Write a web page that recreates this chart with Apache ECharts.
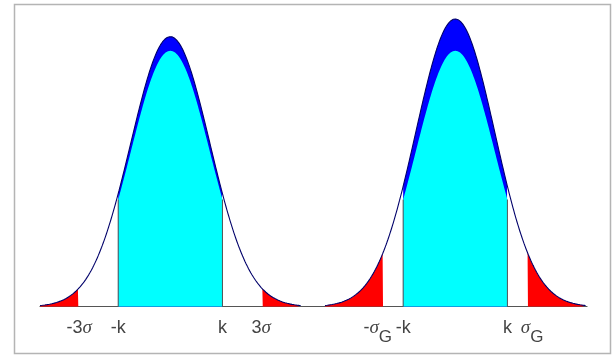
<!DOCTYPE html>
<html>
<head>
<meta charset="utf-8">
<style>
  html, body { margin: 0; padding: 0; background: #fff; }
  #chart { width: 613px; height: 355px; }
</style>
<script src="https://cdn.jsdelivr.net/npm/echarts@6/dist/echarts.min.js"></script>
</head>
<body>
<div id="chart"></div>
<script>
// x in units of sigma of the inner (cyan) curve, y relative to the inner peak
let centers = [0, 7.215]
let innerPeak = [1, 1]
let outerPeak = [1.055, 1.124]
let kCut = [1.32, 1.32]
let tailCut = [2.33, 1.83]
let halfSpan = [3.3, 3.3]

// tick labels under the axis
let labelPos = [-2.31, -1.32, 1.32, 2.30, 5.25, 5.895, 8.535, 9.16]
let labelText = ['-3σ', '-k', 'k', '3σ', '-σG', '-k', 'k', 'σG']

let gauss = (x, c, h) => h * Math.exp(-(x - c) * (x - c) / 2)

let sample = (from, to, c, h) => {
  let pts = []
  let n = Math.max(2, Math.round((to - from) / 0.01))
  for (let i = 0; i <= n; i++) {
    let x = from + (to - from) * i / n
    pts.push([x, gauss(x, c, h)])
  }
  return pts
}

let area = (data, color) => ({
  type: 'line',
  data: data,
  symbol: 'none',
  silent: true,
  lineStyle: { width: 0 },
  areaStyle: { color: color, opacity: 1 }
})

let series = []
centers.forEach((c, i) => {
  let hw = halfSpan[i], k = kCut[i], t = tailCut[i]
  series.push(area(sample(c - k, c + k, c, outerPeak[i]), '#0000ff'))
  series.push(area(sample(c - k, c + k, c, innerPeak[i]), '#00ffff'))
  series.push(area(sample(c - hw, c - t, c, outerPeak[i]), '#ff0000'))
  series.push(area(sample(c + t, c + hw, c, outerPeak[i]), '#ff0000'))
  // outline of the whole curve
  series.push({
    type: 'line',
    data: sample(c - hw, c + hw, c, outerPeak[i]),
    symbol: 'none',
    silent: true,
    lineStyle: { color: '#00006a', width: 1.1 }
  })
  // edges of the cyan band
  series.push({
    type: 'line',
    data: [[c - k, 0], [c - k, gauss(c - k, c, innerPeak[i])], null,
           [c + k, 0], [c + k, gauss(c + k, c, innerPeak[i])]],
    symbol: 'none',
    silent: true,
    lineStyle: { color: '#555', width: 1 }
  })
})

let rich = {
  n: { fontSize: 18, lineHeight: 36, color: '#444', fontFamily: 'Liberation Sans' },
  s: { fontSize: 19, lineHeight: 36, color: '#444', fontFamily: 'Liberation Serif', fontStyle: 'italic' },
  g: { fontSize: 17, lineHeight: 20, color: '#444', fontFamily: 'Liberation Sans', padding: [19, 0, 0, 0] }
}

let fmt = (s) => {
  let out = ''
  for (let ch of s) {
    if (ch === 'σ') out += '{s|σ}'
    else if (ch === 'G') out += '{g|G}'
    else out += '{n|' + ch + '}'
  }
  return out
}

let myChart = echarts.init(document.getElementById('chart'))
let option = {
  animation: false,
  grid: { left: 40, right: 26, top: 12.3, bottom: 48.3 },
  xAxis: {
    type: 'value',
    min: -3.3,
    max: 10.55,
    splitLine: { show: false },
    axisTick: { show: false },
    axisLine: { onZero: true, lineStyle: { color: '#555', width: 1.2 } },
    axisLabel: {
      customValues: labelPos,
      margin: 3,
      formatter: (v, idx) => {
        let j = labelPos.findIndex(p => Math.abs(p - v) < 1e-6)
        return fmt(labelText[j >= 0 ? j : idx])
      },
      rich: rich
    }
  },
  yAxis: {
    type: 'value',
    min: 0,
    max: 1.15,
    show: false
  },
  graphic: [{
    type: 'rect',
    shape: { x: 14.5, y: 4.5, width: 596, height: 349 },
    style: { fill: 'none', stroke: '#b4b4b4', lineWidth: 1.5 },
    silent: true
  }],
  series: series
}
myChart.setOption(option)
</script>
</body>
</html>
